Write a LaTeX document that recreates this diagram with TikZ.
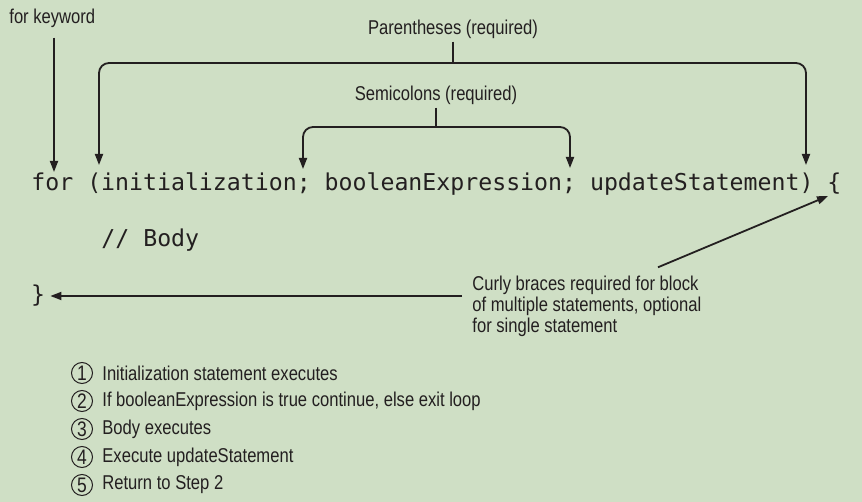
\documentclass[tikz,border=0pt]{standalone}
\usepackage{fontspec}
\setmainfont[FakeStretch=0.83]{Liberation Sans}
\newfontfamily\codefont{DejaVu Sans Mono}
\usepackage{xcolor}
\usetikzlibrary{%
	arrows.meta,%
	calc%
}
\definecolor{panel}{RGB}{207,223,197}
\definecolor{ink}{RGB}{35,31,32}

\begin{document}
\begin{tikzpicture}[x=0.5pt,y=-0.5pt,
	every node/.style={text=ink,inner sep=0pt,font=\fontsize{10}{10.5}\selectfont},
	code/.style={font=\codefont\fontsize{11.6}{14}\selectfont},
	tick/.style={draw=ink,line width=0.9pt},
	pointer/.style={tick,-{Triangle[length=5.5pt,width=4pt]}},
	stepnum/.style={circle,draw=ink,line width=0.5pt,minimum size=10.5pt,font=\fontsize{10.5}{10.5}\selectfont}]
	\useasboundingbox (0,0) rectangle (862,502);
	\fill[panel] (0,0) rectangle (862,502);
	% the loop header and its body
	\node[code,anchor=base west] (header) at (31,191) {for (initialization; booleanExpression; updateStatement) \{};
	\node[code,anchor=base west] (body) at (101,247) {// Body};
	\node[code] (close) at (38,296) {\}};
	% where the pointers land
	\coordinate (forkw) at (54,172);
	\coordinate (parenL) at (99,165);
	\coordinate (parenR) at (806,165);
	\coordinate (semiL) at (303,169);
	\coordinate (semiR) at (570,168);
	\coordinate (opentip) at (828,196);
	% labels
	\node[anchor=west] (kw) at (9,18) {for keyword};
	\node (paren) at (453,29) {Parentheses (required)};
	\node (semi) at (436,95) {Semicolons (required)};
	\node[align=left,anchor=west] (curly) at (472,306) {Curly braces required for block\\of multiple statements, optional\\for single statement};
	\coordinate (parenbar) at (paren.south |- 0,63);
	\coordinate (semibar) at (semi.south |- 0,127);
	% pointers
	\draw[pointer] ([yshift=-5pt]kw.south -| forkw) -- (forkw);
	\draw[tick,shorten <=1.5pt] (paren.south) -- (parenbar);
	\draw[pointer,rounded corners=5pt] (parenbar) -| (parenL);
	\draw[pointer,rounded corners=5pt] (parenbar) -| (parenR);
	\draw[tick,shorten <=1.5pt] (semi.south) -- (semibar);
	\draw[pointer,rounded corners=5pt] (semibar) -| (semiL);
	\draw[pointer,rounded corners=5pt] (semibar) -| (semiR);
	\draw[pointer] ($(curly.north west)+(186,-8)$) -- (opentip);
	\draw[pointer,shorten >=2.5pt] ([xshift=-5pt]curly.west |- close) -- (close.east);
	% the steps
	\foreach \T [count=\N] in {Initialization statement executes,{If booleanExpression is true continue, else exit loop},Body executes,Execute updateStatement,Return to Step 2}
	{\node[stepnum] (n\N) at (82,345+28*\N) {\N};
		\node[anchor=west] (s\N) at (102,345+28*\N) {\T};}
\end{tikzpicture}
\end{document}
